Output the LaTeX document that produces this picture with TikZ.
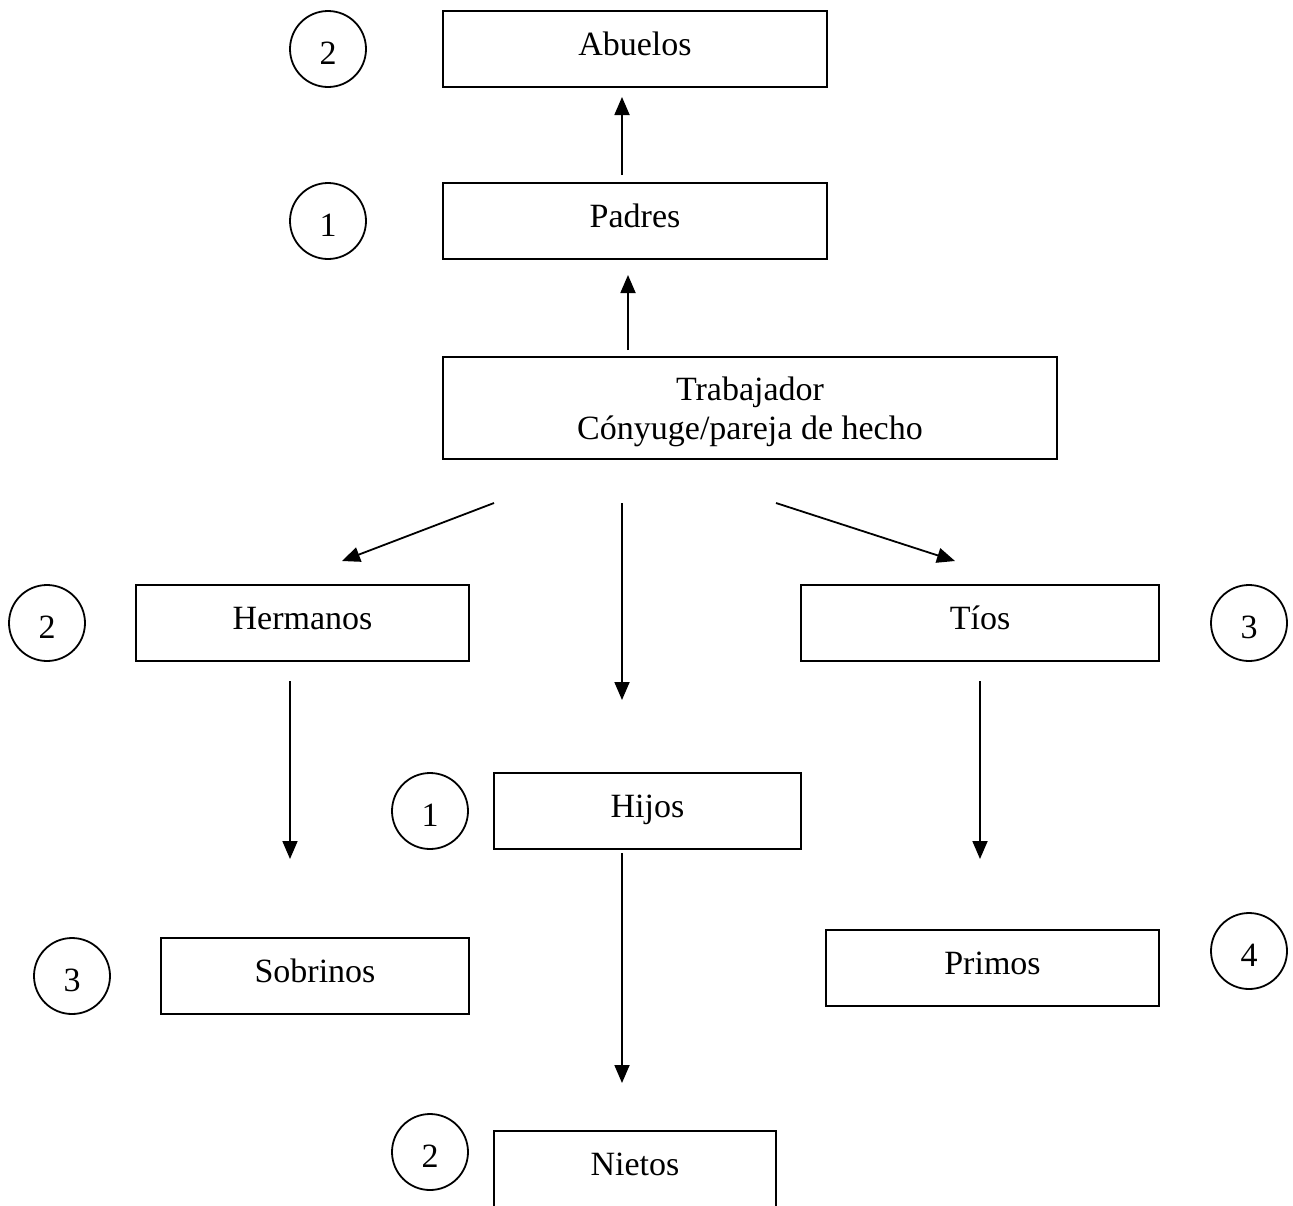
\documentclass[tikz,border=0pt]{standalone}
\usepackage{fontspec}
\setmainfont{Liberation Serif}
\usetikzlibrary{arrows.meta}
\begin{document}
\begin{tikzpicture}[x=1pt,y=-1pt,
  box/.style={draw,line width=2pt,rectangle,inner sep=0pt,font=\fontsize{34}{39}\selectfont,
    text height=24pt,text depth=12pt},
  num/.style={draw,line width=1.8pt,circle,minimum size=76pt,inner sep=0pt,
    font=\fontsize{34}{39}\selectfont,text height=30pt,text depth=0pt},
  txt/.style={inner sep=0pt,anchor=base,font=\fontsize{34}{39}\selectfont},
  arr/.style={line width=1.8pt,-{Triangle[length=18pt,width=15pt]}}]
\useasboundingbox[fill=white] (0,0) rectangle (1293,1205);
% boxes
\node[box,minimum width=384pt,minimum height=76pt] (abuelos) at (635,49) {Abuelos};
\node[box,minimum width=384pt,minimum height=76pt] (padres) at (635,221) {Padres};
\node[draw,line width=2pt,rectangle,minimum width=614pt,minimum height=102pt,inner sep=0pt] (trab) at (750,408) {};
\node[txt] (trab1) at (750,400) {Trabajador};
\node[txt] (trab2) at (750,439) {Cónyuge/pareja de hecho};
\node[box,minimum width=333pt,minimum height=76pt] (hermanos) at (302.5,623) {Hermanos};
\node[box,minimum width=358pt,minimum height=76pt] (tios) at (980,623) {Tíos};
\node[box,minimum width=307pt,minimum height=76pt] (hijos) at (647.5,811) {Hijos};
\node[box,minimum width=308pt,minimum height=76pt] (sobrinos) at (315,976) {Sobrinos};
\node[box,minimum width=333pt,minimum height=76pt] (primos) at (992.5,968) {Primos};
\node[box,minimum width=282pt,minimum height=76pt] (nietos) at (635,1169) {Nietos};
% circles
\node[num] (c1) at (328,49) {2};
\node[num] (c2) at (328,221) {1};
\node[num] (c3) at (47,623) {2};
\node[num] (c4) at (1249,623) {3};
\node[num] (c5) at (430,811) {1};
\node[num] (c6) at (72,976) {3};
\node[num] (c7) at (1249,951) {4};
\node[num] (c8) at (430,1152) {2};
% arrow end points
\coordinate (a1s) at (622,175); \coordinate (a1e) at (622,97);
\coordinate (a2s) at (628,350); \coordinate (a2e) at (628,275);
\coordinate (a3s) at (494,503); \coordinate (a3e) at (342,561);
\coordinate (a4s) at (622,503); \coordinate (a4e) at (622,700);
\coordinate (a5s) at (776,503); \coordinate (a5e) at (955,561);
\coordinate (a6s) at (290,681); \coordinate (a6e) at (290,859);
\coordinate (a7s) at (980,681); \coordinate (a7e) at (980,859);
\coordinate (a8s) at (622,853); \coordinate (a8e) at (622,1083);
\draw[arr] (a1s) -- (a1e);
\draw[arr] (a2s) -- (a2e);
\draw[arr] (a3s) -- (a3e);
\draw[arr] (a4s) -- (a4e);
\draw[arr] (a5s) -- (a5e);
\draw[arr] (a6s) -- (a6e);
\draw[arr] (a7s) -- (a7e);
\draw[arr] (a8s) -- (a8e);
\end{tikzpicture}
\end{document}
